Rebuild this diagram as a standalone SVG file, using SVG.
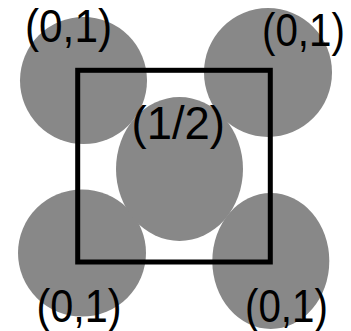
<svg xmlns="http://www.w3.org/2000/svg" width="351" height="331" viewBox="0 0 351 331">
<style>
.atom{fill:#888888;stroke:none}
.cell{fill:none;stroke:#000000;stroke-width:5;stroke-linejoin:miter}
.lbl{font-family:"Liberation Sans","Open Sans",sans-serif;font-size:46px;fill:#000000}
</style>
<rect width="351" height="331" fill="#ffffff"/>
<g id="atom-top-left"><ellipse class="atom" cx="83.5" cy="80.5" rx="63.5" ry="63.5"/></g>
<g id="atom-top-right"><ellipse class="atom" cx="268" cy="72.5" rx="64" ry="64.5"/></g>
<g id="atom-bottom-left"><ellipse class="atom" cx="82" cy="253" rx="64" ry="63.5"/></g>
<g id="atom-bottom-right"><ellipse class="atom" cx="270.8" cy="261" rx="58.5" ry="68"/></g>
<g id="atom-center"><ellipse class="atom" cx="179.5" cy="169" rx="63.5" ry="72"/></g>
<g id="cell"><rect class="cell" x="77.7" y="70.3" width="192.6" height="191.7"/></g>
<g id="labels">
<text class="lbl" transform="translate(25,42) scale(0.92,1)">(0,1)</text>
<text class="lbl" transform="translate(262,46) scale(0.877,1)">(0,1)</text>
<text class="lbl" transform="translate(131.5,139) scale(0.988,1)">(1/2)</text>
<text class="lbl" transform="translate(36.5,322) scale(0.9,1)">(0,1)</text>
<text class="lbl" transform="translate(245,322) scale(0.877,1)">(0,1)</text>
</g>
</svg>
